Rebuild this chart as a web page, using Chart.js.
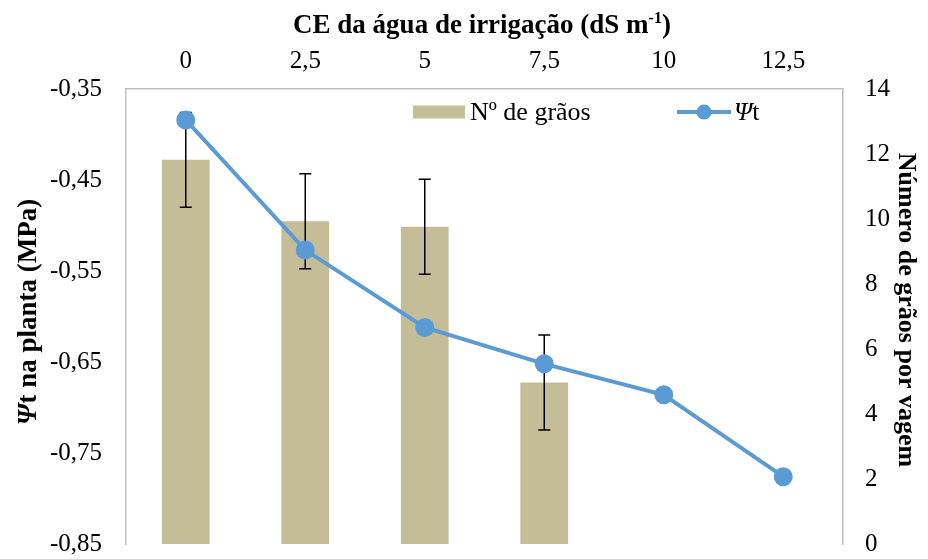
<!DOCTYPE html>
<html>
<head>
<meta charset="utf-8">
<script src="https://cdn.jsdelivr.net/npm/chart.js@4"></script>
<style>
  html, body { margin: 0; padding: 0; background: #fff; }
  #wrap { width: 928px; height: 559px; }
</style>
</head>
<body>
<div id="wrap"><canvas id="c" width="928" height="559"></canvas></div>
<script>
// CE levels of the irrigation water (dS m-1)
const categories = ['0', '2,5', '5', '7,5', '10', '12,5'];
// Number of grains per pod (right axis) and its error
const graos = [11.82, 9.93, 9.76, 4.97, null, null];
const graosErr = [1.46, 1.46, 1.46, 1.46, null, null];
// Total water potential in the plant, MPa (left axis)
const psiT = [-0.384, -0.527, -0.612, -0.652, -0.686, -0.776];
// Axis ticks
const psiTicks = [-0.85, -0.75, -0.65, -0.55, -0.45, -0.35];
const graosTicks = [0, 2, 4, 6, 8, 10, 12, 14];

const BAR_COLOR = '#c4bd97';
const LINE_COLOR = '#5b9bd5';
const AXIS_COLOR = '#bfbfbf';
const SERIF = '"Liberation Serif", "Times New Roman", serif';

// draw a sequence of differently styled text pieces
function drawRuns(ctx, runs, x, y, align) {
  let total = 0;
  runs.forEach(r => { ctx.font = r.font; r.w = ctx.measureText(r.text).width; total += r.w; });
  let cx = align === 'center' ? x - total / 2 : x;
  runs.forEach(r => {
    ctx.font = r.font;
    ctx.textAlign = 'left';
    ctx.textBaseline = 'alphabetic';
    ctx.fillText(r.text, cx, y - (r.rise || 0));
    cx += r.w;
  });
}

const titlesPlugin = {
  id: 'titles',
  afterDraw(chart) {
    const ctx = chart.ctx;
    ctx.save();
    ctx.fillStyle = '#000';
    // top axis title
    drawRuns(ctx, [
      { text: 'CE da água de irrigação (dS m', font: 'bold 27px ' + SERIF },
      { text: '-1', font: 'bold 16px ' + SERIF, rise: 10 },
      { text: ')', font: 'bold 27px ' + SERIF }
    ], 482, 33, 'center');
    // left axis title
    ctx.save();
    ctx.translate(36, 312);
    ctx.rotate(-Math.PI / 2);
    drawRuns(ctx, [
      { text: 'Ψ', font: 'italic bold 27px ' + SERIF },
      { text: 't na planta (MPa)', font: 'bold 27px ' + SERIF }
    ], 0, 0, 'center');
    ctx.restore();
    // right axis title
    ctx.save();
    ctx.translate(899, 310);
    ctx.rotate(Math.PI / 2);
    drawRuns(ctx, [
      { text: 'Número de grãos por vagem', font: 'bold 26px ' + SERIF }
    ], 0, 0, 'center');
    ctx.restore();

    // legend inside the plot
    const ly = 112;
    ctx.fillStyle = BAR_COLOR;
    ctx.fillRect(413, ly - 6.5, 52, 13);
    ctx.fillStyle = '#000';
    drawRuns(ctx, [{ text: 'Nº de grãos', font: '26px ' + SERIF }], 470, ly + 8, 'left');
    ctx.strokeStyle = LINE_COLOR;
    ctx.lineWidth = 4;
    ctx.beginPath();
    ctx.moveTo(677, ly); ctx.lineTo(731, ly);
    ctx.stroke();
    ctx.fillStyle = LINE_COLOR;
    ctx.beginPath();
    ctx.arc(704, ly, 7.5, 0, Math.PI * 2);
    ctx.fill();
    ctx.fillStyle = '#000';
    drawRuns(ctx, [
      { text: 'Ψ', font: 'italic 26px ' + SERIF },
      { text: 't', font: '26px ' + SERIF }
    ], 734, ly + 8, 'left');
    ctx.restore();
  }
};

// error bars on the grain bars, drawn right after the bars
const errorBarsPlugin = {
  id: 'errorBars',
  afterDatasetDraw(chart, args) {
    if (args.index !== 0) return;
    const ctx = chart.ctx;
    const meta = args.meta;
    const ys = chart.scales.y1;
    ctx.save();
    ctx.strokeStyle = '#000';
    ctx.lineWidth = 1.5;
    meta.data.forEach((bar, i) => {
      const v = graos[i], e = graosErr[i];
      if (v == null || e == null) return;
      const x = bar.x;
      const top = ys.getPixelForValue(v + e);
      const bot = ys.getPixelForValue(v - e);
      ctx.beginPath();
      ctx.moveTo(x, top); ctx.lineTo(x, bot);
      ctx.moveTo(x - 6, top); ctx.lineTo(x + 6, top);
      ctx.moveTo(x - 6, bot); ctx.lineTo(x + 6, bot);
      ctx.stroke();
    });
    ctx.restore();
  }
};

const tickFont = { family: SERIF, size: 25 };

new Chart(document.getElementById('c'), {
  data: {
    labels: categories,
    datasets: [
      {
        type: 'bar',
        label: 'Nº de grãos',
        data: graos,
        yAxisID: 'y1',
        backgroundColor: BAR_COLOR,
        barPercentage: 0.4,
        categoryPercentage: 1,
        order: 2
      },
      {
        type: 'line',
        label: 'Ψt',
        data: psiT,
        yAxisID: 'y',
        borderColor: LINE_COLOR,
        backgroundColor: LINE_COLOR,
        borderWidth: 4,
        pointRadius: 7.5,
        pointHoverRadius: 7.5,
        tension: 0,
        order: 1
      }
    ]
  },
  options: {
    responsive: false,
    animation: false,
    devicePixelRatio: 1,
    layout: { padding: { left: 0, right: 0, top: 0, bottom: 14 } },
    plugins: {
      legend: { display: false },
      tooltip: { enabled: false }
    },
    scales: {
      x: {
        position: 'top',
        grid: { display: false, drawTicks: true, tickLength: 13 },
        border: { display: true, color: AXIS_COLOR, width: 1.5 },
        ticks: { font: tickFont, color: '#000', padding: 0, maxRotation: 0 },
        afterFit(s) { s.height = 89; }
      },
      y: {
        position: 'left',
        min: -0.85,
        max: -0.35,
        grid: { display: false, drawTicks: true, tickLength: 24 },
        border: { display: true, color: AXIS_COLOR, width: 1.5 },
        afterBuildTicks(s) { s.ticks = psiTicks.map(v => ({ value: v })); },
        ticks: {
          font: tickFont,
          color: '#000',
          padding: 0,
          callback: v => v.toFixed(2).replace('.', ',')
        },
        afterFit(s) { s.width = 126; }
      },
      y1: {
        position: 'right',
        min: 0,
        max: 14,
        grid: { display: false, drawTicks: true, tickLength: 22 },
        border: { display: true, color: AXIS_COLOR, width: 1.5 },
        afterBuildTicks(s) { s.ticks = graosTicks.map(v => ({ value: v })); },
        ticks: { font: tickFont, color: '#000', padding: 0 },
        afterFit(s) { s.width = 85; }
      }
    }
  },
  plugins: [errorBarsPlugin, titlesPlugin]
});
</script>
</body>
</html>
